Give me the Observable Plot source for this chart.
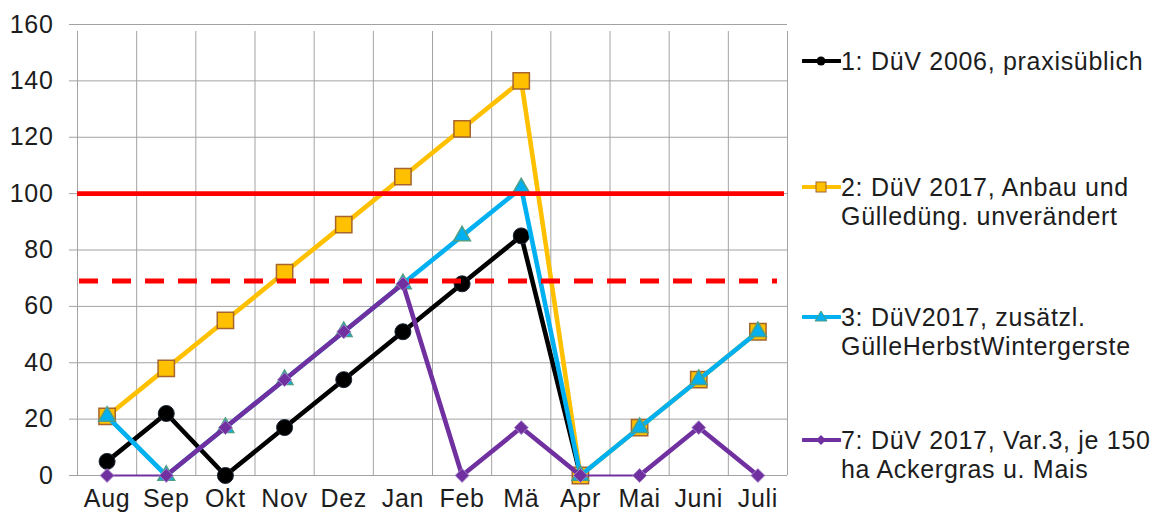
<!DOCTYPE html>
<html>
<head>
<meta charset="utf-8">
<script src="https://cdn.jsdelivr.net/npm/d3@7"></script>
<script src="https://cdn.jsdelivr.net/npm/@observablehq/plot@0.6"></script>
<style>
  html, body { margin: 0; padding: 0; background: #fff; }
  #wrap { position: relative; width: 1164px; height: 521px; font-family: "Liberation Sans", Arial, sans-serif; color: #1d1d1d; }
  #chart { position: absolute; left: 0; top: 0; }
  #chart svg text { letter-spacing: 0.7px; }
  .entry { position: absolute; left: 802px; display: flex; align-items: flex-start; font-size: 25px; line-height: 29px; letter-spacing: 0.7px; white-space: nowrap; }
  .entry svg { flex: none; margin-top: 7px; }
</style>
</head>
<body>
<div id="wrap">
  <div id="chart"></div>
</div>
<script>
const months = ["Aug","Sep","Okt","Nov","Dez","Jan","Feb","Mä","Apr","Mai","Juni","Juli"];
const s1 = [5, 22, 0, 17, 34, 51, 68, 85, 0, null, null, null];
const s2 = [21, 38, 55, 72, 89, 106, 123, 140, 0, 17, 34, 51];
const s3 = [21, 0, 17, 34, 51, 68, 85, 102, 0, 17, 34, 51];
const s7 = [0, 0, 17, 34, 51, 68, 0, 17, 0, 0, 17, 0];
const limitSolid = [100];
const limitDashed = [69];
const yTicks = [0, 20, 40, 60, 80, 100, 120, 140, 160];
const seriesNames = [
  ["1: DüV 2006, praxisüblich"],
  ["2: DüV 2017, Anbau und", "Gülledüng. unverändert"],
  ["3: DüV2017, zusätzl.", "GülleHerbstWintergerste"],
  ["7: DüV 2017, Var.3, je 150", "ha Ackergras u. Mais"]
];

const idx = months.map((m, i) => i);
const bounds = months.map((m, i) => i - 0.5).concat([months.length - 0.5]);
const rows = vals => vals.map((v, i) => ({i, v})).filter(d => d.v != null);
const pairs = vals => vals.slice(1).map((v, k) => ({x1: k, y1: vals[k], x2: k + 1, y2: v}));

const grid = "#a3a3a3";
const cBlack = "#000000", cYellow = "#FFC000", cCyan = "#00B0F0", cPurple = "#7030A0";
const lw = 4.6;

const chart = Plot.plot({
  width: 800, height: 521,
  marginLeft: 77, marginRight: 13, marginTop: 24, marginBottom: 46,
  x: {domain: [-0.5, months.length - 0.5]},
  y: {domain: [0, 160]},
  style: {fontFamily: "'Liberation Sans', Arial, sans-serif", fontSize: "25px", color: "#1d1d1d", background: "#fff"},
  marks: [
    Plot.ruleY(yTicks, {x1: -0.5, x2: months.length - 0.5, stroke: grid, strokeWidth: 1, insetLeft: -8}),
    Plot.ruleX(bounds, {y1: 0, y2: 160, stroke: grid, strokeWidth: 1, insetBottom: -7}),
    Plot.axisY({ticks: yTicks, tickSize: 0, tickPadding: 24, label: null, fill: "#1d1d1d"}),
    Plot.axisX({ticks: idx, tickFormat: i => months[i], tickSize: 0, tickPadding: 14, label: null, fill: "#1d1d1d"}),
    // series 1
    Plot.line(rows(s1), {x: "i", y: "v", stroke: cBlack, strokeWidth: lw, strokeLinejoin: "round"}),
    Plot.dot(rows(s1), {x: "i", y: "v", r: 8, fill: cBlack, stroke: "#1c2433", strokeWidth: 1}),
    // series 2
    Plot.line(rows(s2), {x: "i", y: "v", stroke: cYellow, strokeWidth: lw, strokeLinejoin: "round"}),
    Plot.dot(rows(s2), {x: "i", y: "v", symbol: "square", r: 9.2, fill: cYellow, stroke: "#A5652C", strokeWidth: 1.5}),
    // series 3
    Plot.line(rows(s3), {x: "i", y: "v", stroke: cCyan, strokeWidth: lw, strokeLinejoin: "round"}),
    Plot.dot(rows(s3), {x: "i", y: "v", symbol: "triangle", r: 6.2, fill: cCyan, stroke: "#4F9E86", strokeWidth: 1.5}),
    // series 7
    Plot.link(pairs(s7), {x1: "x1", y1: "y1", x2: "x2", y2: "y2", stroke: cPurple, strokeWidth: d => d.y1 === d.y2 ? 2.2 : lw, strokeLinecap: "round"}),
    Plot.dot(rows(s7), {x: "i", y: "v", symbol: "diamond2", r: 6.2, fill: cPurple, stroke: "#A27FC9", strokeWidth: 1}),
    // limits
    Plot.ruleY(limitSolid, {x1: -0.5, x2: months.length - 0.5, stroke: "#FF0000", strokeWidth: 4.8, insetRight: 3}),
    Plot.ruleY(limitDashed, {x1: -0.5, x2: months.length - 0.5, stroke: "#FF0000", strokeWidth: 4.8, strokeDasharray: "19,14", strokeDashoffset: -2, insetRight: 10})
  ]
});
document.getElementById("chart").appendChild(chart);

// legend
const legendColors = [cBlack, cYellow, cCyan, cPurple];
const legendSymbols = ["circle", "square", "triangle", "diamond"];
const legendTops = [47, 173, 303, 426];
const wrap = document.getElementById("wrap");
seriesNames.forEach((lines, k) => {
  const e = document.createElement("div");
  e.className = "entry";
  e.style.top = legendTops[k] + "px";
  const col = legendColors[k];
  let mk = "";
  if (legendSymbols[k] === "circle") mk = `<circle cx="19" cy="7" r="4.5" fill="${col}"/>`;
  if (legendSymbols[k] === "square") mk = `<rect x="14" y="2" width="10" height="10" fill="${col}" stroke="#A5652C" stroke-width="1"/>`;
  if (legendSymbols[k] === "triangle") mk = `<path d="M19,1 L25,11 L13,11 Z" fill="${col}" stroke="#4F9E86" stroke-width="1"/>`;
  if (legendSymbols[k] === "diamond") mk = `<path d="M19,2 L24,7 L19,12 L14,7 Z" fill="${col}"/>`;
  e.innerHTML = `<svg width="39" height="14"><line x1="1" y1="7" x2="38" y2="7" stroke="${col}" stroke-width="4" stroke-linecap="round"/>${mk}</svg><div>${lines.join("<br>")}</div>`;
  wrap.appendChild(e);
});
</script>
</body>
</html>
